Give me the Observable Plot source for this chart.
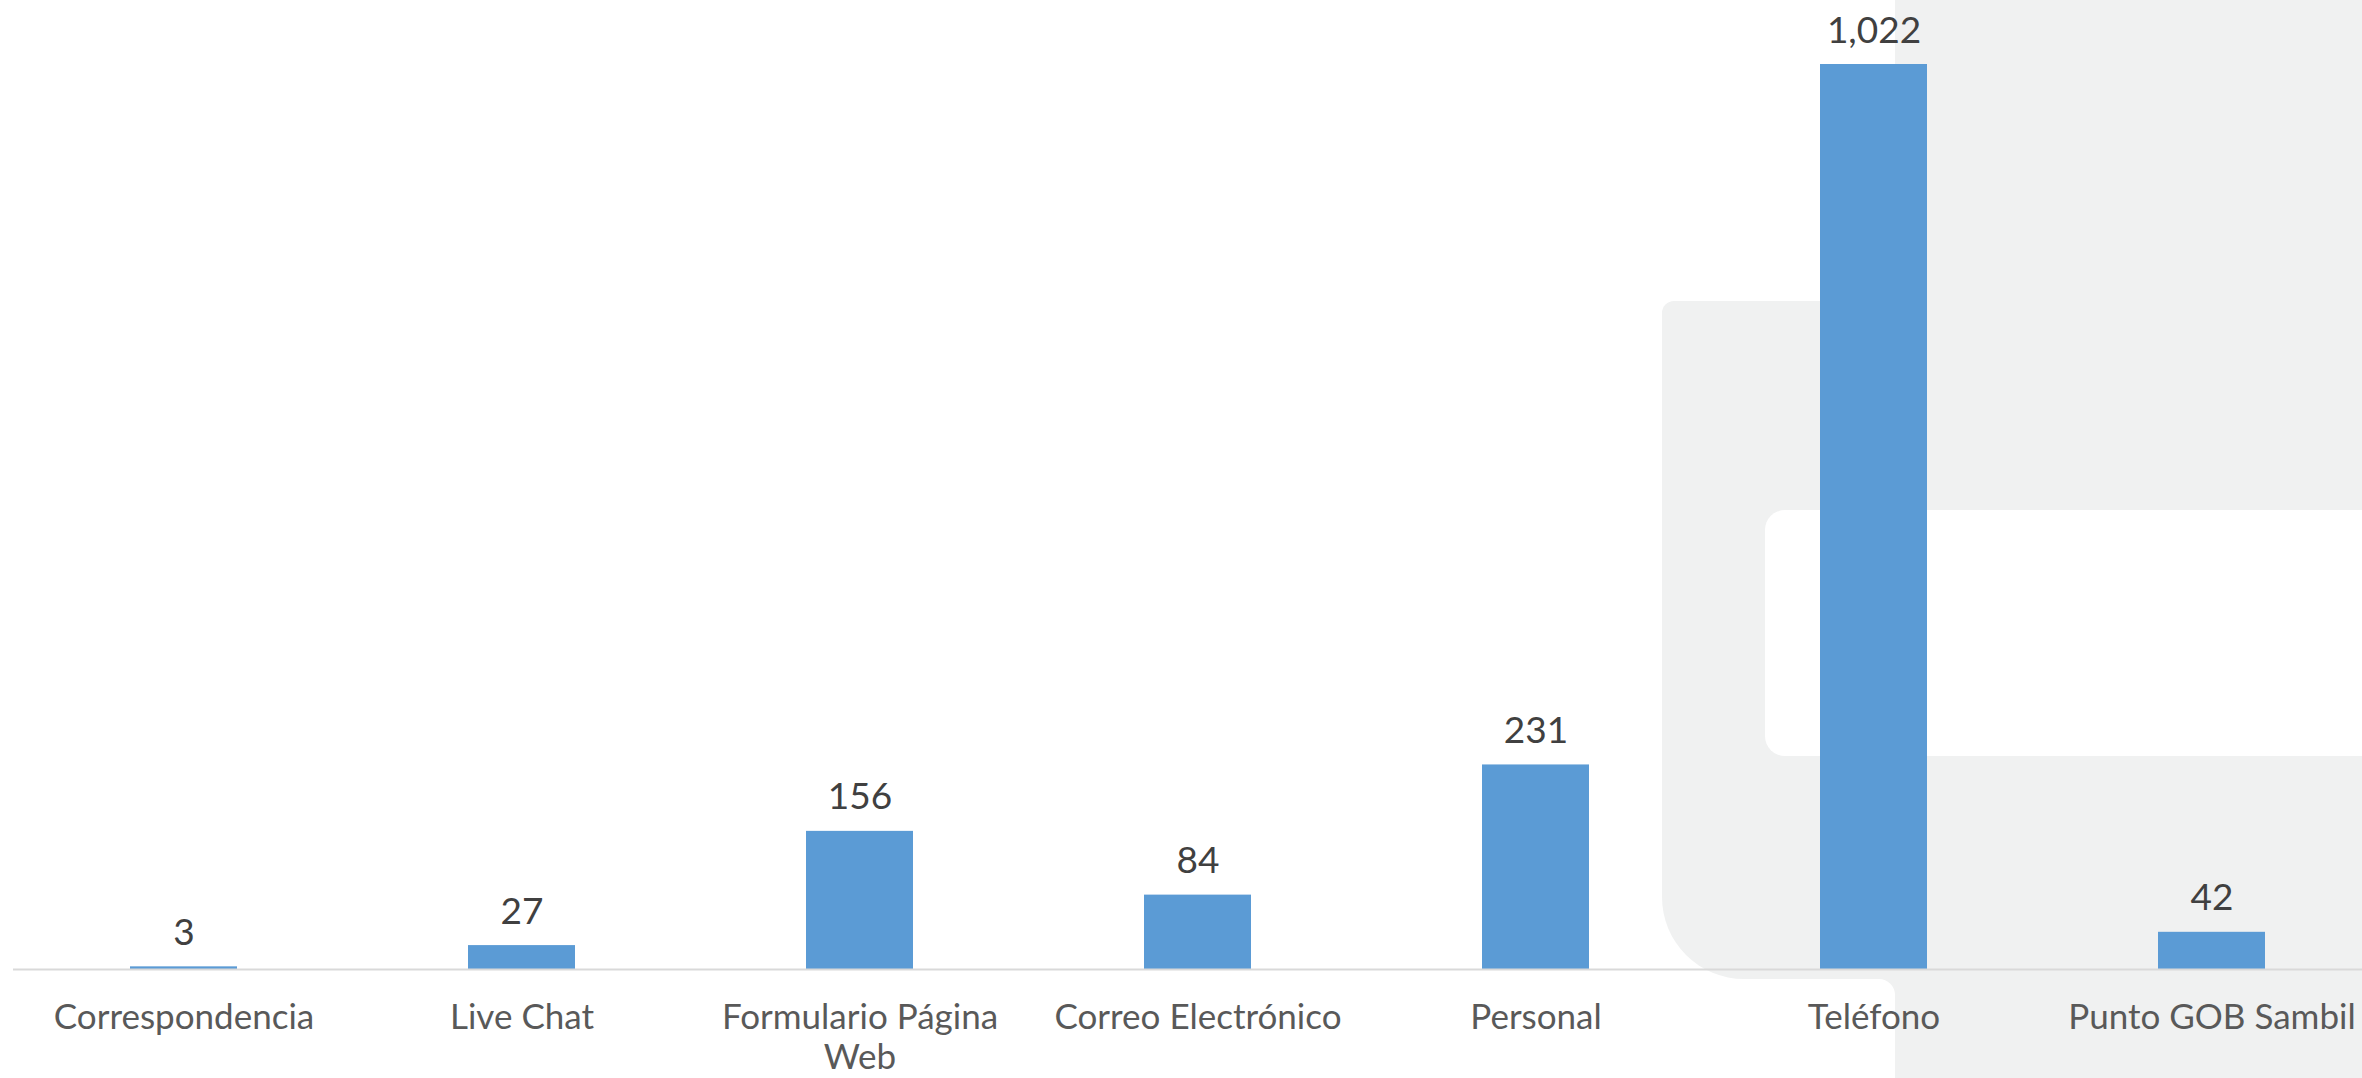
<!DOCTYPE html>
<html>
<head>
<meta charset="utf-8">
<script src="https://cdn.jsdelivr.net/npm/d3@7"></script>
<script src="https://cdn.jsdelivr.net/npm/@observablehq/plot@0.6"></script>
<style>
  html, body { margin: 0; padding: 0; background: #ffffff; overflow: hidden; }
  #wrap { position: relative; width: 2362px; height: 1078px; overflow: hidden; background: #ffffff; }
  .bg { position: absolute; background: #f0f1f1; }
  .wh { position: absolute; background: #ffffff; }
  #chart { position: absolute; left: 0; top: 0; }
</style>
</head>
<body>
<div id="wrap">
  <div class="bg" style="left:1895px; top:0; width:467px; height:1078px;"></div>
  <div class="bg" style="left:1662px; top:301px; width:700px; height:678px; border-top-left-radius:12px; border-bottom-left-radius:82px;"></div>
  <div class="bg" style="left:1878px; top:979px; width:17px; height:17px;"></div>
  <div class="wh" style="left:1700px; top:979px; width:195px; height:99px; border-top-right-radius:16px;"></div>
  <div class="wh" style="left:1765px; top:510px; width:640px; height:246px; border-radius:20px;"></div>
  <div id="chart"></div>
</div>
<script>
const categories = ["Correspondencia", "Live Chat", "Formulario Página Web", "Correo Electrónico", "Personal", "Teléfono", "Punto GOB Sambil"];
const values = [3, 27, 156, 84, 231, 1022, 42];
const tickLabels = ["Correspondencia", "Live Chat", "Formulario Página\nWeb", "Correo Electrónico", "Personal", "Teléfono", "Punto GOB Sambil"];

const data = categories.map((c, i) => ({category: c, value: values[i]}));
const fmt = d3.format(",");

const chart = Plot.plot({
  width: 2383,
  height: 1078,
  marginTop: 64,
  marginBottom: 109,
  marginLeft: 13,
  marginRight: 1,
  style: {background: "transparent", fontFamily: "Lato, 'Open Sans', sans-serif", overflow: "visible", maxWidth: "none"},
  x: {domain: categories, paddingInner: 0.684, paddingOuter: 0.342},
  y: {domain: [0, d3.max(values)], axis: null},
  marks: [
    Plot.barY(data, {x: "category", y: "value", fill: "#5b9bd5"}),
    Plot.ruleY([0], {stroke: "#d9d9d9", strokeWidth: 2}),
    Plot.text(data, {x: "category", y: "value", text: d => fmt(d.value), dy: -22, lineAnchor: "bottom", fontSize: 37, fill: "#404040"}),
    Plot.axisX({
      tickSize: 0,
      tickPadding: 31,
      fontSize: 35,
      color: "#595959",
      lineHeight: 1.15,
      lineAnchor: "top",
      tickFormat: d => tickLabels[categories.indexOf(d)],
      label: null
    })
  ]
});
chart.style.maxWidth = "none";
document.getElementById("chart").appendChild(chart);
</script>
</body>
</html>
